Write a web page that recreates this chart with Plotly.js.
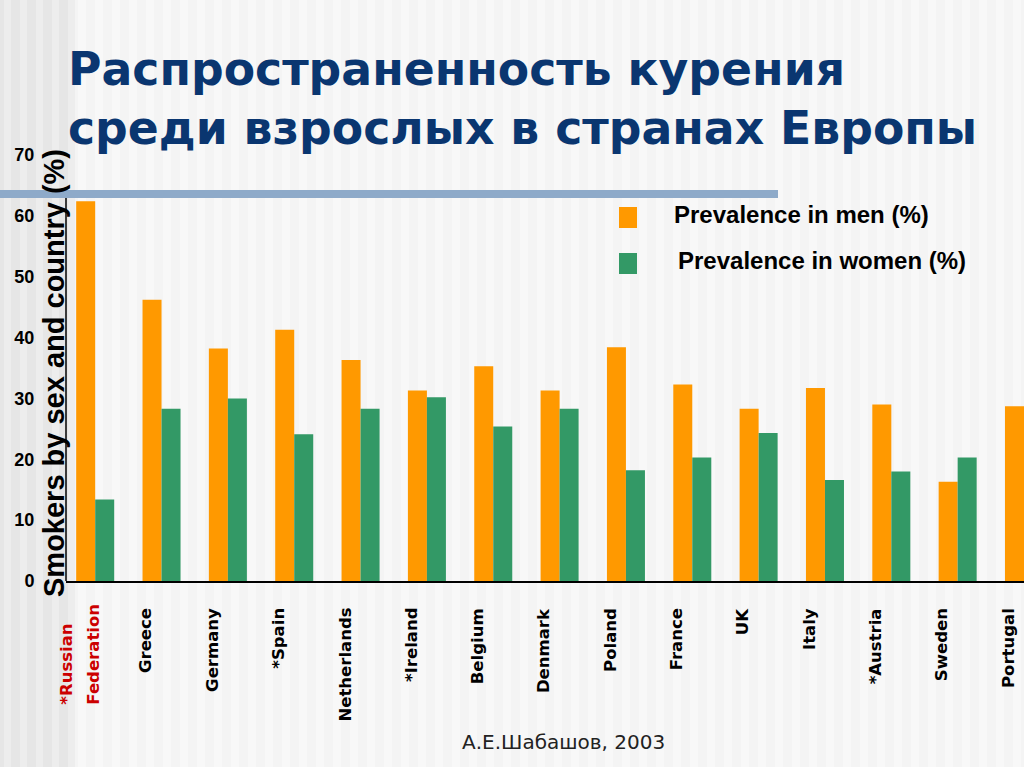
<!DOCTYPE html>
<html>
<head>
<meta charset="utf-8">
<script src="https://cdn.plot.ly/plotly-3.0.1.min.js"></script>
<style>html,body{margin:0;padding:0;background:#f4f4f4;overflow:hidden}</style>
</head>
<body>
<div id="chart" style="width:1024px;height:767px"></div>
<script>
// ---- data ----
const countries = ["*Russian Federation","Greece","Germany","*Spain","Netherlands","*Ireland","Belgium","Denmark","Poland","France","UK","Italy","*Austria","Sweden","Portugal"];
const menPrevalence   = [62.4, 46.2, 38.2, 41.3, 36.3, 31.3, 35.3, 31.3, 38.4, 32.3, 28.3, 31.7, 29.0, 16.3, 28.7];
const womenPrevalence = [13.4, 28.3, 30.0, 24.1, 28.3, 30.2, 25.4, 28.3, 18.2, 20.3, 24.3, 16.6, 18.0, 20.3, null];
const tickLabels = ["*Russian|Federation","Greece","Germany","*Spain","Netherlands","*Ireland","Belgium","Denmark","Poland","France","UK","Italy","*Austria","Sweden","Portugal"];
const yTicks = [0,10,20,30,40,50,60,70];
const seriesNames = ["Prevalence in men (%)","Prevalence in women (%)"];
const titleText = "Распространенность курения<br>среди взрослых в странах Европы";
const yTitle = "Smokers by sex and country (%)";
const credit = "А.Е.Шабашов, 2003";

// ---- layout geometry (pixels) ----
const W = 1024, H = 767, L = 66, R = 0, T = 155, B = 186;
const PW = W - L - R, PH = H - T - B;
const px = x => (x - L) / PW;
const py = y => (H - B - y) / PH;

const ORANGE = "#ff9900", GREEN = "#339966";

const traces = [
  {type:"bar", x:countries, y:menPrevalence, name:seriesNames[0], marker:{color:ORANGE}, showlegend:false, hoverinfo:"x+y"},
  {type:"bar", x:countries, y:womenPrevalence, name:seriesNames[1], marker:{color:GREEN}, showlegend:false, hoverinfo:"x+y"}
];

const shapes = [];
// background stripes (decorative)
shapes.push({type:"rect", xref:"paper", yref:"paper", x0:px(0), x1:px(74), y0:py(H), y1:py(0), fillcolor:"#e6e6e6", line:{width:0}, layer:"below"});
for (let s = 4; s < 74; s += 16) {
  shapes.push({type:"rect", xref:"paper", yref:"paper", x0:px(s), x1:px(s+7), y0:py(H), y1:py(0), fillcolor:"#ededed", line:{width:0}, layer:"below"});
}
for (let s = 78; s < W; s += 17) {
  shapes.push({type:"rect", xref:"paper", yref:"paper", x0:px(s), x1:px(s+8), y0:py(H), y1:py(0), fillcolor:"#f8f8f8", line:{width:0}, layer:"below"});
}
// blue rule under title
shapes.push({type:"rect", xref:"paper", yref:"paper", x0:px(0), x1:px(778), y0:py(198), y1:py(190), fillcolor:"#8eaac9", line:{width:0}, layer:"above"});
// y axis line
shapes.push({type:"line", xref:"paper", yref:"paper", x0:0, x1:0, y0:0, y1:py(187), line:{color:"#000", width:1.5}, layer:"below"});
// legend swatches
shapes.push({type:"rect", xref:"paper", yref:"paper", x0:px(619), x1:px(637), y0:py(228), y1:py(207), fillcolor:ORANGE, line:{width:0}});
shapes.push({type:"rect", xref:"paper", yref:"paper", x0:px(619), x1:px(637), y0:py(274), y1:py(253), fillcolor:GREEN, line:{width:0}});

const annotations = [];
const labFont = (col) => ({family:"DejaVu Sans", size:16.5, weight:"bold", color:col});
countries.forEach((c, i) => {
  const parts = tickLabels[i].split("|");
  if (parts.length === 2) {
    // two-line label, lines start at the same baseline (bottom)
    [[parts[0], -29], [parts[1], -2]].forEach(([t, dx]) => {
      annotations.push({xref:"x", yref:"y", x:c, y:0, xanchor:"center", yanchor:"bottom",
        xshift:dx, yshift:-126, textangle:-90, showarrow:false, text:t, font:labFont("#cc0000")});
    });
  } else {
    annotations.push({xref:"x", yref:"y", x:c, y:0, xanchor:"center", yanchor:"top",
      xshift:-16, yshift:-25, textangle:-90, showarrow:false, text:parts[0], font:labFont("#000")});
  }
});
annotations.push({xref:"paper", yref:"paper", x:px(54), y:py(373), xanchor:"center", yanchor:"middle", textangle:-90, showarrow:false, text:yTitle,
  font:{family:"Liberation Sans", size:29, weight:"bold", color:"#000"}});
annotations.push({xref:"paper", yref:"paper", x:px(672), y:py(214), xanchor:"left", yanchor:"middle", showarrow:false, text:seriesNames[0],
  font:{family:"Liberation Sans", size:24, weight:"bold", color:"#000"}});
annotations.push({xref:"paper", yref:"paper", x:px(676), y:py(260), xanchor:"left", yanchor:"middle", showarrow:false, text:seriesNames[1],
  font:{family:"Liberation Sans", size:24, weight:"bold", color:"#000"}});
annotations.push({xref:"paper", yref:"paper", x:px(563), y:py(742), xanchor:"center", yanchor:"middle", showarrow:false, text:credit,
  font:{family:"DejaVu Sans", size:20, color:"#222"}});

const layout = {
  width:W, height:H,
  margin:{l:L, r:R, t:T, b:B, pad:0},
  paper_bgcolor:"#f4f4f4", plot_bgcolor:"rgba(0,0,0,0)",
  title:{text:titleText, xref:"container", yref:"container", x:68/W, xanchor:"left", y:1-85/H, yanchor:"top",
    font:{family:"DejaVu Sans", size:45.7, weight:"bold", color:"#0a3670"}},
  barmode:"group", bargap:0.427, bargroupgap:0,
  xaxis:{type:"category", range:[-0.44, 14.0], showticklabels:false, ticks:"", showgrid:false, zeroline:false,
    showline:true, linecolor:"#000", linewidth:2, layer:"below traces", fixedrange:true},
  yaxis:{range:[0,70], tickvals:yTicks, ticktext:yTicks.map(String), showgrid:false, zeroline:false, showline:false,
    ticks:"outside", ticklen:27, tickcolor:"rgba(0,0,0,0)",
    tickfont:{family:"Liberation Sans", size:18, weight:"bold", color:"#000"}, fixedrange:true},
  shapes:shapes, annotations:annotations, showlegend:false
};

Plotly.newPlot("chart", traces, layout, {displayModeBar:false, staticPlot:true});
</script>
</body>
</html>
